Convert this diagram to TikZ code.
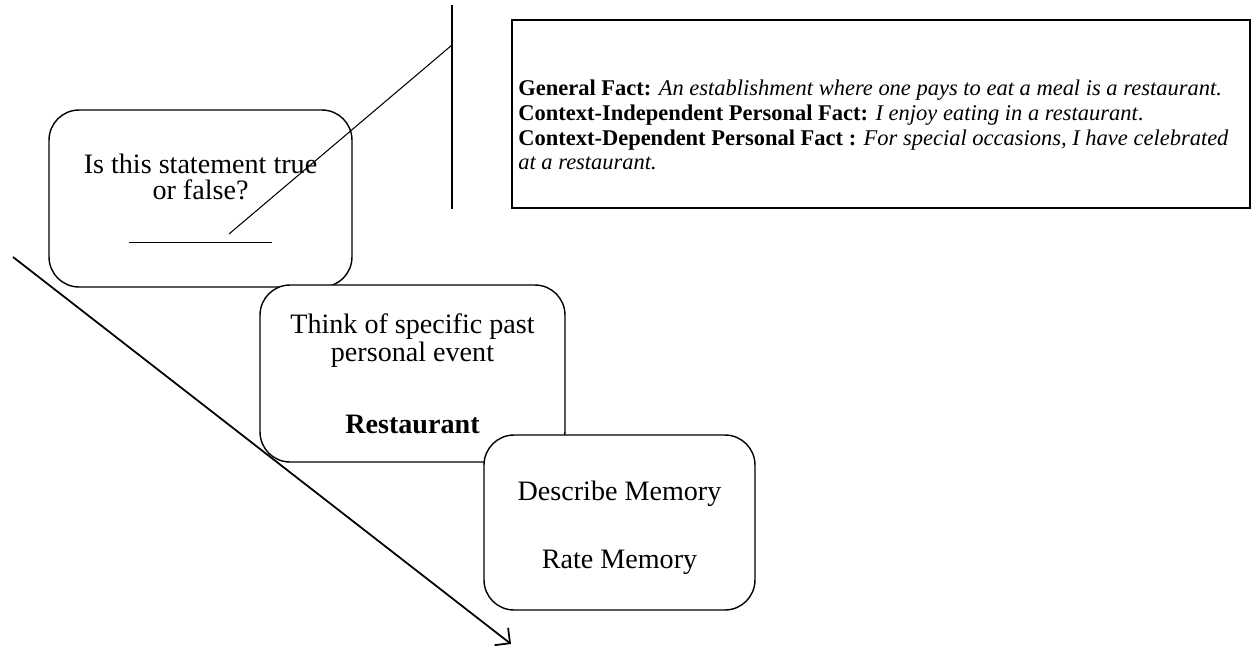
\documentclass[tikz,border=0pt]{standalone}
\usepackage{fontspec}
\setmainfont{Liberation Serif}
\usetikzlibrary{arrows.meta}
\begin{document}
\begin{tikzpicture}[x=0.02cm,y=-0.02cm,
  card/.style={draw,line width=0.8pt,rounded corners=0.6cm,fill=white,align=center,
    minimum width=6.06cm,minimum height=3.54cm,inner sep=0pt,
    font=\fontsize{16}{16}\selectfont},
  factlines/.style={anchor=north west,align=left,inner sep=0pt,
    font=\fontsize{12.8}{14}\selectfont}]
\useasboundingbox (0,0) rectangle (1252,646);

\coordinate (start) at (13,257);
\coordinate (stop) at (511,644);
\draw[-{Straight Barb[length=2.2mm,width=4.4mm]},line width=1pt] (start) -- (stop);

\node[card] (question) at (200.5,198.5) {Is this statement true\\[-1.3pt]or false?\\[9pt]\rule{2.88cm}{0.6pt}};
\node[card,minimum width=6.1cm] (event) at (412.5,373.5) {Think of specific past\\personal event\\[25pt]\textbf{Restaurant}};
\node[card,minimum width=5.42cm,minimum height=3.5cm] (memory) at (619.5,522.5) {\rule{0pt}{17pt}Describe Memory\\[23pt]Rate Memory};

\coordinate (tail) at (229,234);
\coordinate (hook) at (452,45);
\coordinate (vtop) at (452,5);
\coordinate (vbot) at (452,209);
\draw[line width=0.6pt] (tail) -- (hook);
\draw[line width=0.6pt] (vtop) -- (vbot);

\node[draw,line width=0.8pt,minimum width=14.76cm,minimum height=3.76cm,inner sep=0pt] (factbox) at (881,114) {};
\node[factlines] (facts) at (518,80) {\textbf{General Fact:} \textit{An establishment where one pays to eat a meal is a restaurant.}\\
\textbf{Context-Independent Personal Fact:} \textit{I enjoy eating in a restaurant}.\\
\textbf{Context-Dependent Personal Fact :} \textit{For special occasions, I have celebrated}\\
\textit{at a restaurant.}};
\end{tikzpicture}
\end{document}
